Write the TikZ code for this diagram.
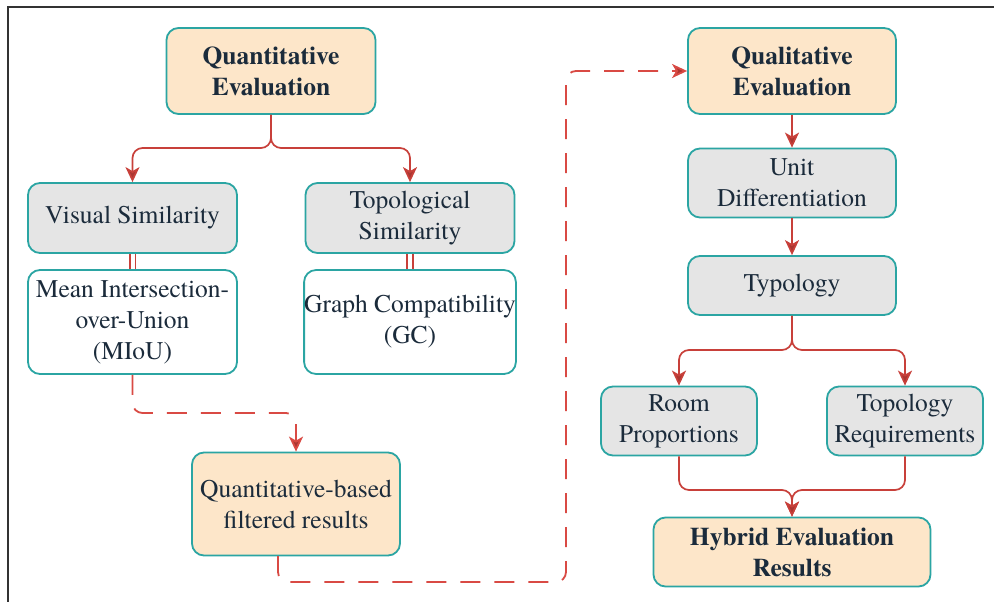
\documentclass[tikz,border=0pt]{standalone}
\usepackage{fontspec}
\setmainfont{TeX Gyre Termes}
\usetikzlibrary{arrows.meta}
\definecolor{tealb}{HTML}{2BA5A3}
\definecolor{orfill}{HTML}{FDE6C9}
\definecolor{grfill}{HTML}{E5E5E5}
\definecolor{redc}{HTML}{C8403A}
\definecolor{redd}{HTML}{D94A44}
\definecolor{txtc}{HTML}{1B2B3B}
\tikzset{
  box/.style={draw=tealb, line width=1.8pt, rounded corners=12pt, inner sep=0pt,
    align=center, text=txtc, font=\fontsize{25.5}{31}\selectfont},
  orbox/.style={box, fill=orfill, font=\fontsize{25.5}{31}\selectfont\bfseries},
  grbox/.style={box, fill=grfill},
  whbox/.style={box, fill=white},
  conn/.style={draw=redc, line width=1.7pt, rounded corners=10pt,
    -{Stealth[length=15pt,width=14pt,inset=4pt,fill=redc!85!black]}},
  dconn/.style={draw=redd, line width=1.8pt, rounded corners=10pt, dash pattern=on 20pt off 14pt,
    -{Stealth[length=15pt,width=14pt,inset=4pt,fill=redc!85!black]}},
  dline/.style={draw=redc, line width=1.6pt, double=white, double distance=4pt}
}
\begin{document}
\begin{tikzpicture}[x=1pt,y=-1pt]
\useasboundingbox (0,0) rectangle (994,602);
\fill[white] (0,0) rectangle (994,602);
\draw[line width=2pt, black!80] (8,602) -- (8,7) -- (994,7);

\node[orbox, minimum width=209pt, minimum height=86pt] (qe) at (271,71) {Quantitative\\Evaluation};
\node[grbox, minimum width=209pt, minimum height=70pt] (vs) at (132.5,218) {Visual Similarity};
\node[grbox, minimum width=209pt, minimum height=70pt] (ts) at (410,218) {Topological\\Similarity};
\node[whbox, minimum width=209pt, minimum height=104pt] (miou) at (132.5,322) {Mean Intersection-\\over-Union\\(MIoU)};
\node[whbox, minimum width=209pt, minimum height=104pt] (gc) at (410,322) {Graph Compatibility\\(GC)};
\node[orbox, minimum width=208pt, minimum height=103pt, font=\fontsize{25.5}{31}\selectfont] (qfr) at (296,504) {Quantitative-based\\filtered results};

\node[orbox, minimum width=208pt, minimum height=86pt] (ql) at (792,71) {Qualitative\\Evaluation};
\node[grbox, minimum width=208pt, minimum height=69pt] (ud) at (792,183) {Unit\\Differentiation};
\node[grbox, minimum width=208pt, minimum height=59pt] (ty) at (792,285.5) {Typology};
\node[grbox, minimum width=156pt, minimum height=69pt] (rp) at (679,421) {Room\\Proportions};
\node[grbox, minimum width=156pt, minimum height=69pt] (tr) at (905,421) {Topology\\Requirements};
\node[orbox, minimum width=277pt, minimum height=69pt] (hy) at (792,552) {Hybrid Evaluation\\Results};

\coordinate (s1) at (271,148);
\coordinate (s2) at (792,350);
\coordinate (s3) at (792,490);
\coordinate (d0) at (278,556);
\coordinate (d1) at (566,582);
\coordinate (m1) at (132.5,413);

\draw[conn] (qe.south) -- (s1) -| (vs.north);
\draw[conn] (qe.south) -- (s1) -| (ts.north);
\draw[dline] (vs.south) -- (miou.north);
\draw[dline] (ts.south) -- (gc.north);

\draw[dconn] (miou.south) -- (m1) -| (qfr.north);
\draw[dconn] (d0) |- (d1) -- (d1 |- ql.west) -- (ql.west);

\draw[conn] (ql.south) -- (ud.north);
\draw[conn] (ud.south) -- (ty.north);
\draw[conn] (ty.south) -- (s2) -| (rp.north);
\draw[conn] (ty.south) -- (s2) -| (tr.north);
\draw[conn] (rp.south) |- (s3) -- (hy.north);
\draw[conn] (tr.south) |- (s3) -- (hy.north);
\end{tikzpicture}
\end{document}
